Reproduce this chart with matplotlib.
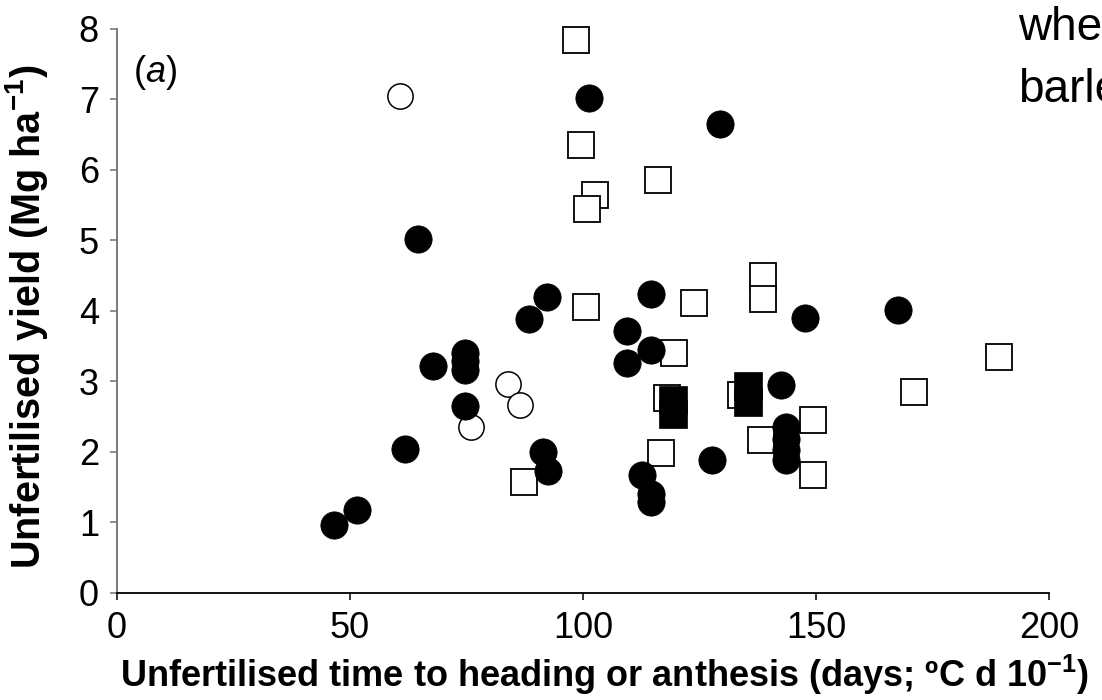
import matplotlib
matplotlib.use('Agg')
import matplotlib.pyplot as plt

plt.rcParams['font.family'] = ['Liberation Sans', 'DejaVu Sans']
plt.rcParams['mathtext.fontset'] = 'custom'
plt.rcParams['mathtext.rm'] = 'Liberation Sans'
plt.rcParams['mathtext.it'] = 'Liberation Sans:italic'
plt.rcParams['mathtext.bf'] = 'Liberation Sans:bold'
plt.rcParams['mathtext.default'] = 'bf'

# filled circles
fc_x = [101.2, 129.4, 64.5, 92.3, 88.5, 114.5, 109.4, 147.6, 167.5, 74.7, 74.7, 74.7,
        67.7, 74.6, 61.7, 51.4, 46.5, 114.6, 109.5, 142.4, 143.5, 143.5, 143.5, 143.5,
        127.6, 112.7, 114.5, 114.5, 91.4, 92.4]
fc_y = [7.02, 6.65, 5.02, 4.20, 3.89, 4.24, 3.72, 3.90, 4.02, 3.41, 3.29, 3.16,
        3.22, 2.65, 2.04, 1.18, 0.97, 3.44, 3.26, 2.95, 2.35, 2.19, 2.03, 1.88,
        1.89, 1.67, 1.41, 1.29, 2.00, 1.73]
# open circles
oc_x = [60.7, 83.8, 86.4, 75.9]
oc_y = [7.05, 2.96, 2.67, 2.36]
# open squares
os_x = [98.4, 99.6, 116.1, 102.5, 100.9, 138.6, 138.6, 100.6, 123.8, 119.6, 118.0,
        133.9, 149.4, 138.2, 149.4, 116.8, 87.3, 189.2, 171.0]
os_y = [7.84, 6.35, 5.86, 5.65, 5.45, 4.49, 4.17, 4.06, 4.11, 3.41, 2.77,
        2.81, 2.46, 2.17, 1.67, 1.98, 1.57, 3.35, 2.85]
# filled squares
fs_x = [119.3, 119.3, 135.5, 135.5]
fs_y = [2.74, 2.54, 2.93, 2.71]

fig = plt.figure(figsize=(11.02, 7.0), dpi=100)
ax = fig.add_axes([0.1062, 0.1529, 0.8457, 0.8057])

ax.plot(oc_x, oc_y, 'o', ms=18.2, mfc='white', mec='black', mew=1.1, ls='none', clip_on=False)
ax.plot(os_x, os_y, 's', ms=18.4, mfc='white', mec='black', mew=1.3, ls='none', clip_on=False)
ax.plot(fc_x, fc_y, 'o', ms=19.6, mfc='black', mec='black', mew=0.6, ls='none', clip_on=False)
ax.plot(fs_x, fs_y, 's', ms=19.8, mfc='black', mec='black', mew=0.5, ls='none', clip_on=False)

ax.set_xlim(0, 200)
ax.set_ylim(0, 8)
ax.set_xticks([0, 50, 100, 150, 200])
ax.set_yticks(range(0, 9))
ax.spines['top'].set_visible(False)
ax.spines['right'].set_visible(False)
ax.spines['left'].set_color('#707070')
ax.spines['left'].set_linewidth(1.3)
ax.spines['bottom'].set_linewidth(1.3)
ax.tick_params(axis='both', direction='out', length=5, width=1.1, labelsize=26, pad=8)
ax.tick_params(axis='y', color='#707070')

ax.set_xlabel('Unfertilised time to heading or anthesis (days; ºC d 10$^{-1}$)',
              fontsize=26, fontweight='bold')
ax.set_ylabel('Unfertilised yield (Mg ha$^{-1}$)', fontsize=28.5, fontweight='bold')
ax.xaxis.set_label_coords(0.523, -0.106)
ax.yaxis.set_label_coords(-0.072, 0.49)

ax.text(3.5, 7.25, r'($\mathit{a}$)', fontsize=26, va='baseline')

# legend entries run off the right edge, as in the original
fig.text(1018 / 1102, 1 - 40 / 700, 'wheat', fontsize=33, va='baseline')
fig.text(1018 / 1102, 1 - 102 / 700, 'barley', fontsize=33, va='baseline')

fig.savefig('out.png', dpi=100)
